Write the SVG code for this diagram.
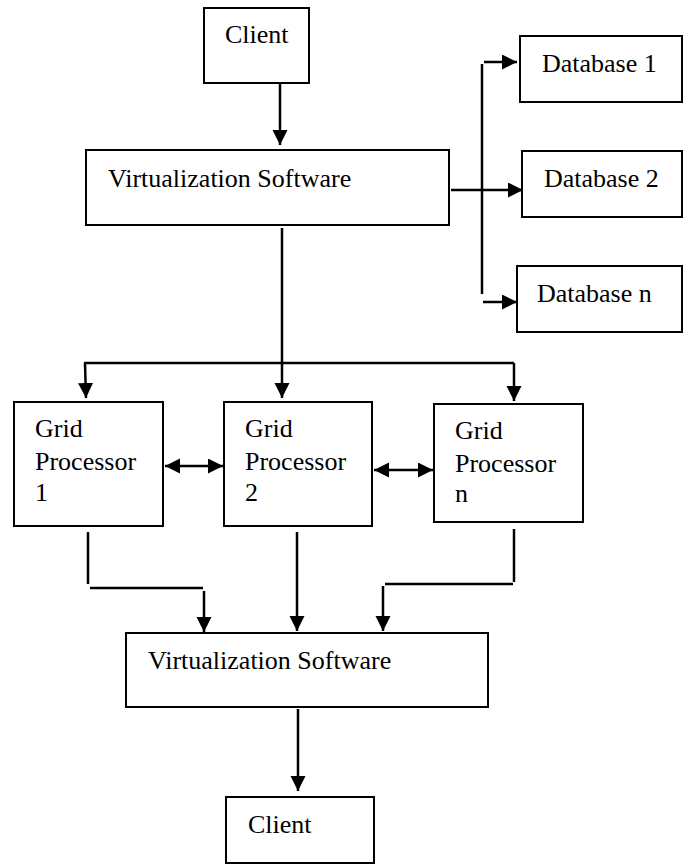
<svg xmlns="http://www.w3.org/2000/svg" width="685" height="865" viewBox="0 0 685 865">
<style>
.box{fill:#fff;stroke:#000;stroke-width:2}
.t{font-family:"Liberation Serif","Times New Roman",serif;font-size:26px;fill:#000}
.c{fill:none;stroke:#000;stroke-width:2.5}
.a{marker-end:url(#ah)}
.d{marker-start:url(#ah);marker-end:url(#ah)}
</style>
<defs>
<marker id="ah" markerUnits="userSpaceOnUse" markerWidth="16" markerHeight="16" refX="15" refY="7.5" orient="auto-start-reverse">
<path d="M0,0 L15,7.5 L0,15 z" fill="#000"/>
</marker>
</defs>
<rect width="685" height="865" fill="#fff"/>
<g id="connectors">
<line class="c a" x1="280" y1="83" x2="280" y2="145"/>
<line class="c a" x1="451" y1="190" x2="523" y2="190"/>
<line class="c" x1="482" y1="64" x2="482" y2="294"/>
<line class="c a" x1="484" y1="62" x2="517" y2="62"/>
<line class="c a" x1="483" y1="302" x2="517" y2="302"/>
<line class="c a" x1="282" y1="228" x2="282" y2="398"/>
<line class="c" x1="84" y1="363" x2="514" y2="363"/>
<line class="c a" x1="85" y1="363" x2="86" y2="398"/>
<line class="c a" x1="514" y1="363" x2="514" y2="401"/>
<line class="c d" x1="165" y1="466" x2="223" y2="466"/>
<line class="c d" x1="374" y1="470" x2="433" y2="470"/>
<line class="c" x1="88" y1="532" x2="88" y2="584"/>
<line class="c" x1="90" y1="588" x2="203" y2="588"/>
<line class="c a" x1="204" y1="591" x2="204" y2="632"/>
<line class="c a" x1="297" y1="532" x2="297" y2="631"/>
<line class="c" x1="514" y1="529" x2="514" y2="582"/>
<line class="c" x1="385" y1="584" x2="513" y2="584"/>
<line class="c a" x1="383" y1="586" x2="383" y2="631"/>
<line class="c a" x1="298" y1="709" x2="298" y2="791"/>
</g>
<g id="client-top"><rect class="box" x="204" y="8" width="105" height="75"/><text class="t" x="225" y="43">Client</text></g>
<g id="virt-top"><rect class="box" x="86" y="150" width="363" height="75"/><text class="t" x="108" y="187">Virtualization Software</text></g>
<g id="db1"><rect class="box" x="520" y="36" width="162" height="66"/><text class="t" x="542" y="72">Database 1</text></g>
<g id="db2"><rect class="box" x="522" y="151" width="160" height="66"/><text class="t" x="544" y="187">Database 2</text></g>
<g id="dbn"><rect class="box" x="517" y="266" width="165" height="66"/><text class="t" x="537" y="302">Database n</text></g>
<g id="grid1"><rect class="box" x="14" y="402" width="149" height="124"/><text class="t" x="35" y="437">Grid</text><text class="t" x="35" y="470">Processor</text><text class="t" x="35" y="501">1</text></g>
<g id="grid2"><rect class="box" x="224" y="402" width="148" height="124"/><text class="t" x="245" y="437">Grid</text><text class="t" x="245" y="470">Processor</text><text class="t" x="245" y="501">2</text></g>
<g id="gridn"><rect class="box" x="434" y="404" width="149" height="118"/><text class="t" x="455" y="439">Grid</text><text class="t" x="455" y="472">Processor</text><text class="t" x="455" y="502">n</text></g>
<g id="virt-bottom"><rect class="box" x="126" y="633" width="362" height="74"/><text class="t" x="148" y="669">Virtualization Software</text></g>
<g id="client-bottom"><rect class="box" x="226" y="797" width="148" height="66"/><text class="t" x="248" y="833">Client</text></g>
</svg>
